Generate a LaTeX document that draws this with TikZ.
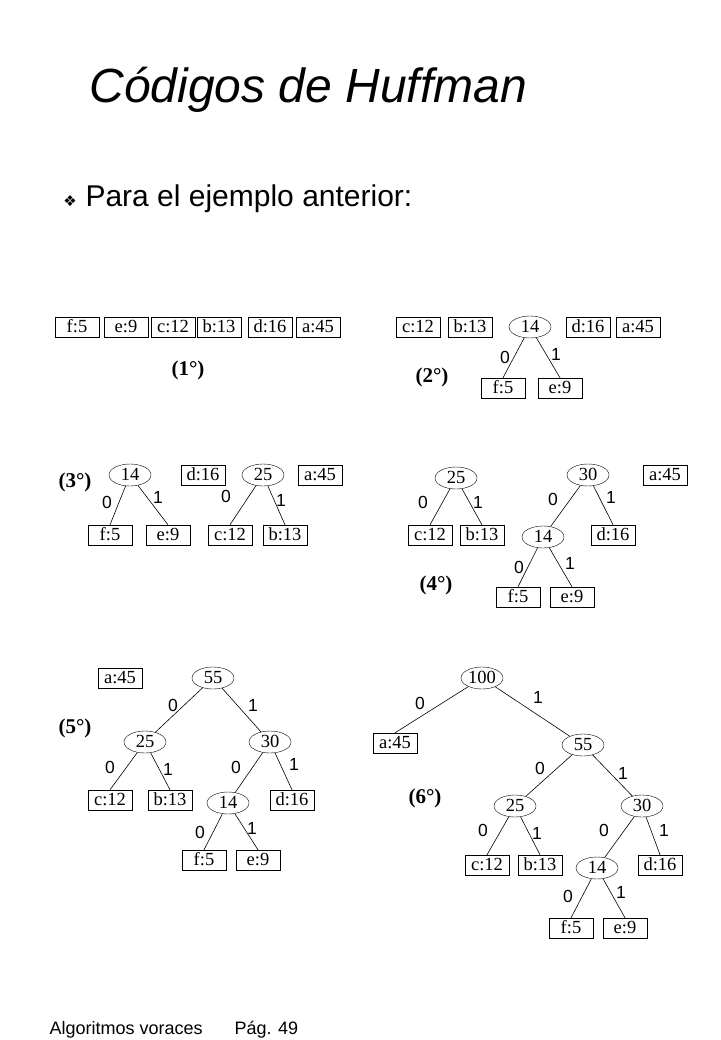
\documentclass[tikz,border=0pt]{standalone}
\usepackage{fontspec}
\setmainfont{Liberation Serif}
\newfontfamily\arialfont{Liberation Sans}
\newfontfamily\symfont{DejaVu Sans}
\usetikzlibrary{shapes.geometric}
\tikzset{
  leaf/.style = {draw, rectangle, minimum width = 44pt, minimum height = 20pt, inner sep = 1pt, text height = 12pt, text depth = 2pt, font = \fontsize{18.5}{18.5}\selectfont},
  inner/.style = {draw, ellipse, minimum width = 42pt, minimum height = 22pt, inner sep = 0pt, text height = 12pt, text depth = 1pt, font = \fontsize{18.5}{18.5}\selectfont},
  bit/.style = {font = \arialfont\fontsize{17.5}{17.5}\selectfont},
  stage/.style = {font = \bfseries\fontsize{21}{21}\selectfont},
  edge/.style = {black, line width = 0.6pt}
}
\begin{document}
\begin{tikzpicture}[x = 1pt, y = -1pt]
            \useasboundingbox (0, 0) rectangle (720, 1040);

            % header
            \node[anchor = west, font = \arialfont\itshape\fontsize{48}{48}\selectfont] (title) at (86, 90) {Códigos de Huffman};
            \node[font = \symfont\fontsize{15}{15}\selectfont] (bullet) at (70, 201) {❖};
            \node[anchor = west, font = \arialfont\fontsize{30}{30}\selectfont] (intro) at (82, 199) {Para el ejemplo anterior:};

            % (1)
            \node[leaf] (f1) at (77, 327) {f:5};
            \node[leaf] (e1) at (126, 327) {e:9};
            \node[leaf] (c1) at (173, 327) {c:12};
            \node[leaf] (b1) at (219, 327) {b:13};
            \node[leaf] (d1) at (270, 327) {d:16};
            \node[leaf] (a1) at (318, 327) {a:45};
            \node[stage] (s1) at (188, 370) {(1°)};

            % (2)
            \node[leaf] (c2) at (418, 327) {c:12};
            \node[leaf] (b2) at (470, 327) {b:13};
            \node[inner] (n14b) at (530, 327) {14};
            \node[leaf] (d2) at (588, 327) {d:16};
            \node[leaf] (a2) at (638, 327) {a:45};
            \node[leaf] (f2) at (503, 388) {f:5};
            \node[leaf] (e2) at (560, 388) {e:9};
            \draw[edge] (n14b) -- (f2.north);
            \draw[edge] (n14b) -- (e2.north);
            \node[bit] at (505, 357) {0};
            \node[bit] at (556, 354) {1};
            \node[stage] (s2) at (432, 377) {(2°)};

            % (3)
            \node[inner] (n14c) at (130, 475) {14};
            \node[leaf] (d3) at (203, 475) {d:16};
            \node[inner] (n25c) at (263, 475) {25};
            \node[leaf] (a3) at (320, 475) {a:45};
            \node[leaf] (f3) at (110, 535) {f:5};
            \node[leaf] (e3) at (168, 535) {e:9};
            \node[leaf] (c3) at (230, 535) {c:12};
            \node[leaf] (b3) at (285, 535) {b:13};
            \draw[edge] (n14c) -- (f3.north);
            \draw[edge] (n14c) -- (e3.north);
            \draw[edge] (n25c) -- (c3.north);
            \draw[edge] (n25c) -- (b3.north);
            \node[bit] at (107, 502) {0};
            \node[bit] at (158, 497) {1};
            \node[bit] at (226, 496) {0};
            \node[bit] at (281, 500) {1};
            \node[stage] (s3) at (75, 482) {(3°)};

            % (4)
            \node[inner] (n25d) at (456, 478) {25};
            \node[leaf] (c4) at (430, 535) {c:12};
            \node[leaf] (b4) at (482, 535) {b:13};
            \node[inner] (n30d) at (588, 475) {30};
            \node[leaf] (a4) at (665, 475) {a:45};
            \node[inner] (n14d) at (543, 537) {14};
            \node[leaf] (d4) at (613, 535) {d:16};
            \node[leaf] (f4) at (518, 597) {f:5};
            \node[leaf] (e4) at (572, 597) {e:9};
            \draw[edge] (n25d) -- (c4.north);
            \draw[edge] (n25d) -- (b4.north);
            \draw[edge] (n30d) -- (n14d);
            \draw[edge] (n30d) -- (d4.north);
            \draw[edge] (n14d) -- (f4.north);
            \draw[edge] (n14d) -- (e4.north);
            \node[bit] at (423, 502) {0};
            \node[bit] at (478, 502) {1};
            \node[bit] at (553, 499) {0};
            \node[bit] at (611, 497) {1};
            \node[bit] at (519, 567) {0};
            \node[bit] at (570, 563) {1};
            \node[stage] (s4) at (436, 585) {(4°)};

            % (5)
            \node[leaf] (a5) at (120, 678) {a:45};
            \node[inner] (n55e) at (213, 678) {55};
            \node[inner] (n25e) at (145, 742) {25};
            \node[inner] (n30e) at (270, 742) {30};
            \node[leaf] (c5) at (110, 800) {c:12};
            \node[leaf] (b5) at (170, 800) {b:13};
            \node[inner] (n14e) at (228, 803) {14};
            \node[leaf] (d5) at (292, 800) {d:16};
            \node[leaf] (f5) at (204, 860) {f:5};
            \node[leaf] (e5) at (258, 860) {e:9};
            \draw[edge] (n55e) -- (n25e);
            \draw[edge] (n55e) -- (n30e);
            \draw[edge] (n25e) -- (c5.north);
            \draw[edge] (n25e) -- (b5.north);
            \draw[edge] (n30e) -- (n14e);
            \draw[edge] (n30e) -- (d5.north);
            \draw[edge] (n14e) -- (f5.north);
            \draw[edge] (n14e) -- (e5.north);
            \node[bit] at (173, 705) {0};
            \node[bit] at (253, 705) {1};
            \node[bit] at (110, 767) {0};
            \node[bit] at (168, 769) {1};
            \node[bit] at (236, 767) {0};
            \node[bit] at (294, 764) {1};
            \node[bit] at (200, 832) {0};
            \node[bit] at (252, 828) {1};
            \node[stage] (s5) at (75, 728) {(5°)};

            % (6)
            \node[inner] (n100f) at (482, 678) {100};
            \node[leaf] (a6) at (395, 743) {a:45};
            \node[inner] (n55f) at (583, 745) {55};
            \node[inner] (n25f) at (515, 806) {25};
            \node[inner] (n30f) at (642, 806) {30};
            \node[leaf] (c6) at (487, 865) {c:12};
            \node[leaf] (b6) at (540, 865) {b:13};
            \node[inner] (n14f) at (597, 868) {14};
            \node[leaf] (d6) at (660, 865) {d:16};
            \node[leaf] (f6) at (571, 928) {f:5};
            \node[leaf] (e6) at (625, 928) {e:9};
            \draw[edge] (n100f) -- (a6.north);
            \draw[edge] (n100f) -- (n55f);
            \draw[edge] (n55f) -- (n25f);
            \draw[edge] (n55f) -- (n30f);
            \draw[edge] (n25f) -- (c6.north);
            \draw[edge] (n25f) -- (b6.north);
            \draw[edge] (n30f) -- (n14f);
            \draw[edge] (n30f) -- (d6.north);
            \draw[edge] (n14f) -- (f6.north);
            \draw[edge] (n14f) -- (e6.north);
            \node[bit] at (420, 703) {0};
            \node[bit] at (538, 697) {1};
            \node[bit] at (540, 768) {0};
            \node[bit] at (623, 773) {1};
            \node[bit] at (483, 830) {0};
            \node[bit] at (537, 833) {1};
            \node[bit] at (604, 830) {0};
            \node[bit] at (664, 830) {1};
            \node[bit] at (568, 896) {0};
            \node[bit] at (621, 892) {1};
            \node[stage] (s6) at (425, 798) {(6°)};

            % footer
            \node[anchor = west, font = \arialfont\fontsize{18}{18}\selectfont] (foot) at (46, 1030) {Algoritmos voraces};
            \node[anchor = west, font = \arialfont\fontsize{18}{18}\selectfont] (page) at (231, 1030) {Pág. 49};
\end{tikzpicture}
\end{document}
